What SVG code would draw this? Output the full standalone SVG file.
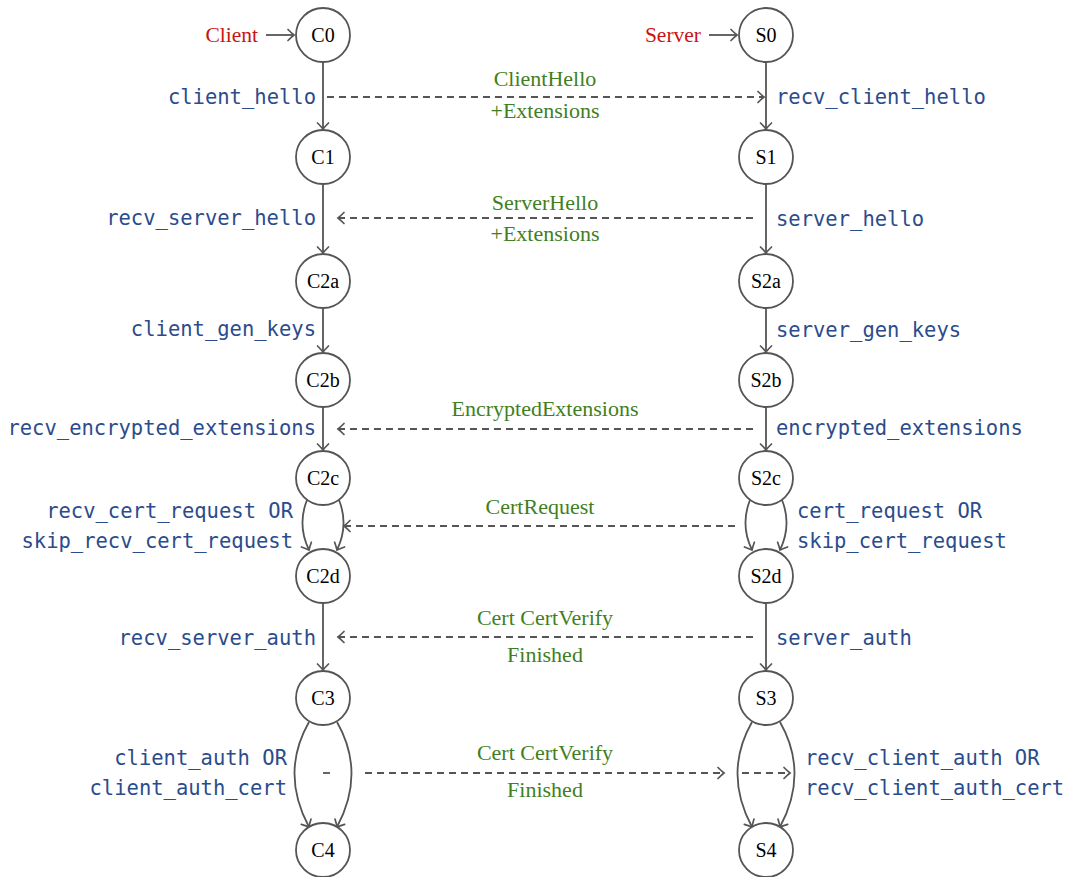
<svg xmlns="http://www.w3.org/2000/svg" width="1065" height="877" viewBox="0 0 1065 877">
<style>
.n circle{fill:#fff;stroke:#555;stroke-width:1.8}
.n text{font-family:"Liberation Serif",serif;font-size:20px;fill:#000;text-anchor:middle}
.e{fill:none;stroke:#555;stroke-width:1.8;marker-end:url(#ah)}
.d{fill:none;stroke:#555;stroke-width:1.8;stroke-dasharray:7,5}
.da{fill:none;stroke:#555;stroke-width:1.8;stroke-dasharray:7,5;marker-end:url(#ah)}
.m{font-family:"DejaVu Sans Mono",monospace;font-size:20.5px;fill:#2b4c8c}
.ml{text-anchor:end}
.g{font-family:"Liberation Serif",serif;font-size:22px;fill:#3f7f22;text-anchor:middle}
.r{font-family:"Liberation Serif",serif;font-size:21.5px;fill:#c81414;text-anchor:end}
</style>
<defs>
<marker id="ah" markerUnits="userSpaceOnUse" markerWidth="16" markerHeight="16" viewBox="-10 -8 12 16" refX="0" refY="0" orient="auto">
<path d="M-6,-5.5 Q-2,-1.5 0,0 Q-2,1.5 -6,5.5" fill="none" stroke="#555" stroke-width="1.7" stroke-linecap="round"/>
</marker>
</defs>
<g id="connectors">
<line class="e" x1="266" y1="35" x2="294" y2="35"/>
<line class="e" x1="709" y1="35" x2="737" y2="35"/>
<line class="e" x1="323" y1="62" x2="323" y2="129"/>
<line class="e" x1="323" y1="184" x2="323" y2="253"/>
<line class="e" x1="323" y1="308" x2="323" y2="352"/>
<line class="e" x1="323" y1="407" x2="323" y2="450"/>
<path class="e" d="M307,500 Q297,525 309,550"/>
<path class="e" d="M339,500 Q349,525 337,550"/>
<line class="e" x1="323" y1="603" x2="323" y2="670"/>
<path class="e" d="M309,722 Q280,773 309,827"/>
<path class="e" d="M337,722 Q366,773 337,827"/>
<line class="e" x1="766" y1="62" x2="766" y2="129"/>
<line class="e" x1="766" y1="184" x2="766" y2="253"/>
<line class="e" x1="766" y1="308" x2="766" y2="352"/>
<line class="e" x1="766" y1="407" x2="766" y2="450"/>
<path class="e" d="M750,500 Q740,525 752,550"/>
<path class="e" d="M782,500 Q792,525 780,550"/>
<line class="e" x1="766" y1="603" x2="766" y2="670"/>
<path class="e" d="M752,722 Q723,773 752,827"/>
<path class="e" d="M780,722 Q809,773 780,827"/>
<line class="da" x1="327" y1="97" x2="764" y2="97"/>
<line class="da" x1="753" y1="218" x2="338" y2="218"/>
<line class="da" x1="753" y1="429" x2="338" y2="429"/>
<line class="da" x1="735" y1="526" x2="344" y2="526"/>
<line class="da" x1="753" y1="637" x2="338" y2="637"/>
<line class="d" x1="323" y1="773" x2="331" y2="773"/>
<line class="da" x1="365" y1="773" x2="724" y2="773"/>
<line class="da" x1="742" y1="773" x2="790" y2="773"/>
</g>
<g id="C0" class="n"><circle cx="323" cy="35" r="27"/><text x="323" y="42">C0</text></g>
<g id="C1" class="n"><circle cx="323" cy="157" r="27"/><text x="323" y="164">C1</text></g>
<g id="C2a" class="n"><circle cx="323" cy="281" r="27"/><text x="323" y="288">C2a</text></g>
<g id="C2b" class="n"><circle cx="323" cy="380" r="27"/><text x="323" y="387">C2b</text></g>
<g id="C2c" class="n"><circle cx="323" cy="478" r="27"/><text x="323" y="485">C2c</text></g>
<g id="C2d" class="n"><circle cx="323" cy="576" r="27"/><text x="323" y="583">C2d</text></g>
<g id="C3" class="n"><circle cx="323" cy="698" r="27"/><text x="323" y="705">C3</text></g>
<g id="C4" class="n"><circle cx="323" cy="850" r="27"/><text x="323" y="857">C4</text></g>
<g id="S0" class="n"><circle cx="766" cy="35" r="27"/><text x="766" y="42">S0</text></g>
<g id="S1" class="n"><circle cx="766" cy="157" r="27"/><text x="766" y="164">S1</text></g>
<g id="S2a" class="n"><circle cx="766" cy="281" r="27"/><text x="766" y="288">S2a</text></g>
<g id="S2b" class="n"><circle cx="766" cy="380" r="27"/><text x="766" y="387">S2b</text></g>
<g id="S2c" class="n"><circle cx="766" cy="478" r="27"/><text x="766" y="485">S2c</text></g>
<g id="S2d" class="n"><circle cx="766" cy="576" r="27"/><text x="766" y="583">S2d</text></g>
<g id="S3" class="n"><circle cx="766" cy="698" r="27"/><text x="766" y="705">S3</text></g>
<g id="S4" class="n"><circle cx="766" cy="850" r="27"/><text x="766" y="857">S4</text></g>
<g id="labels">
<text class="r" x="258" y="42">Client</text>
<text class="r" x="701" y="42">Server</text>
<text class="m ml" x="316" y="104">client_hello</text>
<text class="m ml" x="316" y="225">recv_server_hello</text>
<text class="m ml" x="316" y="336">client_gen_keys</text>
<text class="m ml" x="316" y="435">recv_encrypted_extensions</text>
<text class="m ml" x="293" y="518">recv_cert_request OR</text>
<text class="m ml" x="293" y="548">skip_recv_cert_request</text>
<text class="m ml" x="316" y="645">recv_server_auth</text>
<text class="m ml" x="287" y="765">client_auth OR</text>
<text class="m ml" x="287" y="795">client_auth_cert</text>
<text class="m" x="776" y="104">recv_client_hello</text>
<text class="m" x="776" y="226">server_hello</text>
<text class="m" x="776" y="337">server_gen_keys</text>
<text class="m" x="776" y="435">encrypted_extensions</text>
<text class="m" x="797" y="518">cert_request OR</text>
<text class="m" x="797" y="548">skip_cert_request</text>
<text class="m" x="776" y="645">server_auth</text>
<text class="m" x="805" y="765">recv_client_auth OR</text>
<text class="m" x="805" y="795">recv_client_auth_cert</text>
<text class="g" x="545" y="86">ClientHello</text>
<text class="g" x="545" y="118">+Extensions</text>
<text class="g" x="545" y="210">ServerHello</text>
<text class="g" x="545" y="241">+Extensions</text>
<text class="g" x="545" y="416">EncryptedExtensions</text>
<text class="g" x="540" y="514">CertRequest</text>
<text class="g" x="545" y="625">Cert CertVerify</text>
<text class="g" x="545" y="662">Finished</text>
<text class="g" x="545" y="760">Cert CertVerify</text>
<text class="g" x="545" y="797">Finished</text>
</g>
</svg>
